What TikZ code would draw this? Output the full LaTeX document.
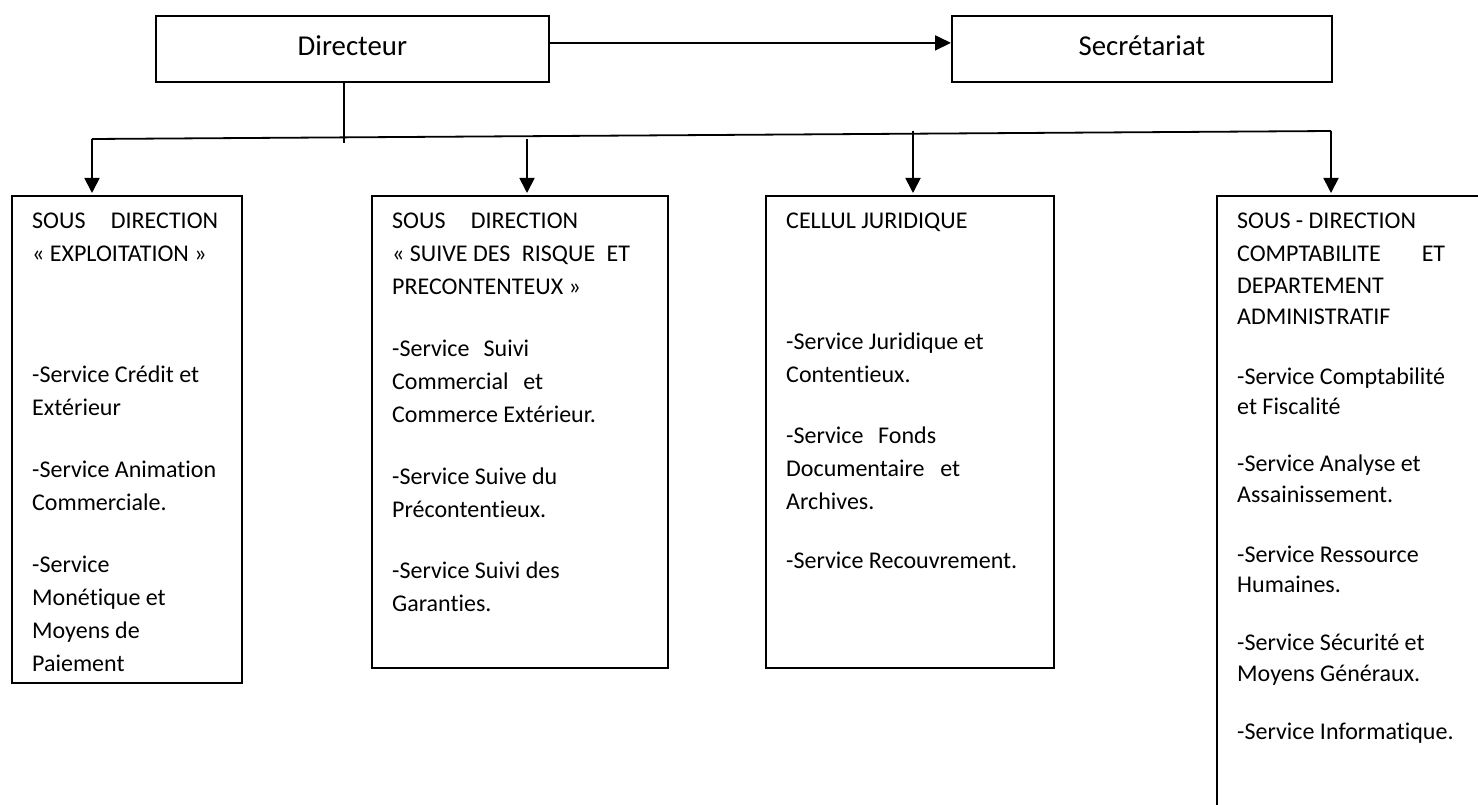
\documentclass[tikz,border=0pt]{standalone}
\usepackage{fontspec}
\setmainfont{Carlito}[Ligatures=NoCommon]
\usetikzlibrary{calc,arrows.meta}

% word spaces of the font itself (align=left fixes them otherwise)
\newcommand{\fontsp}{\spaceskip=0pt\xspaceskip=0pt\relax}
% stretched (justified) line of a given width
\newcommand{\jline}[2]{\makebox[#1][s]{\fontsp#2}}

\begin{document}
\begin{tikzpicture}[x=1pt, y=-1pt,
  box/.style={draw, line width=1.8pt, inner sep=0pt, anchor=north west},
  head/.style={box, font=\fontsize{28.8}{34}\selectfont, text depth=6pt},
  txt/.style={inner sep=0pt, anchor=base west, align=left, text width=240pt,
    font=\fontsize{24}{33}\selectfont},
  link/.style={line width=1.8pt},
  arr/.style={link, -{Triangle[length=15pt,width=15pt]}, shorten >=2pt}]

  % Page
  \clip (0,0) rectangle (1478,805);
  \fill[white] (0,0) rectangle (1478,805);

  % ==================== 1. TOP ====================
  \node[head, minimum width=393pt, minimum height=66pt] (dir) at (155,15) {Directeur};
  \node[head, minimum width=380pt, minimum height=66pt] (sec) at (951,15) {Secrétariat};
  \draw[arr, shorten >=0pt, -{Triangle[length=16pt,width=15pt]}] ([yshift=6pt]dir.east) -- ([yshift=6pt]sec.west);

  % ==================== 2. BOXES ====================
  \node[box, minimum width=230pt, minimum height=487pt] (b1) at (11,195) {};
  \node[box, minimum width=296pt, minimum height=472pt] (b2) at (371,195) {};
  \node[box, minimum width=288pt, minimum height=472pt] (b3) at (765,195) {};
  \node[box, minimum width=320pt, minimum height=660pt] (b4) at (1216,195) {};

  % Box 1 (text cut at the bottom)
  \begin{scope}
    \clip (b1.north west) rectangle ($(b1.south east)+(0,-11)$);
    \node[txt] (t1) at ($(b1.north west)+(21,34)$) {\fontsp
      \jline{186pt}{SOUS DIRECTION}\\
      « EXPLOITATION »\\[88pt]
      -Service Crédit et\\
      Extérieur\\[29pt]
      -Service Animation\\
      Commerciale.\\[29pt]
      -Service\\
      Monétique et\\
      Moyens de\\
      Paiement};
  \end{scope}

  % Box 2
  \node[txt] (t2) at ($(b2.north west)+(21,34)$) {\fontsp
    \jline{186pt}{SOUS DIRECTION}\\
    \jline{238pt}{\mbox{« SUIVE DES} RISQUE ET}\\
    PRECONTENTEUX »\\[29pt]
    \jline{137pt}{-Service Suivi}\\
    \jline{151pt}{Commercial et}\\
    Commerce Extérieur.\\[29pt]
    -Service Suive du\\
    Précontentieux.\\[28pt]
    -Service Suivi des\\
    Garanties.};

  % Box 3
  \node[txt] (t3) at ($(b3.north west)+(21,34)$) {\fontsp
    CELLUL JURIDIQUE\\[88pt]
    -Service Juridique et\\
    Contentieux.\\[28pt]
    \jline{150pt}{-Service Fonds}\\
    \jline{174pt}{Documentaire et}\\
    Archives.\\[26pt]
    -Service Recouvrement.};

  % Box 4
  \node[txt, font=\fontsize{24}{30.5}\selectfont] (t4) at ($(b4.north west)+(21,34)$) {\fontsp
    SOUS - DIRECTION\\[2.5pt]
    \jline{208pt}{COMPTABILITE ET}\\[1.5pt]
    DEPARTEMENT\\
    ADMINISTRATIF\\[29.5pt]
    -Service Comptabilité\\
    et Fiscalité\\[26.5pt]
    -Service Analyse et\\
    Assainissement.\\[29.5pt]
    -Service Ressource\\
    Humaines.\\[27.5pt]
    -Service Sécurité et\\
    Moyens Généraux.\\[27.5pt]
    -Service Informatique.};

  % ==================== 3. CONNECTORS ====================
  \coordinate (drop) at (344,143);
  \coordinate (busL) at (92,139);
  \coordinate (busR) at (1331,131);
  \coordinate (tap2) at (527,139);
  \coordinate (tap3) at (913,131);

  \draw[link] (drop |- dir.south) -- (drop);
  \draw[link] (busL) -- (busR);
  \draw[arr] (busL) -- (busL |- b1.north);
  \draw[arr] (tap2) -- (tap2 |- b2.north);
  \draw[arr] (tap3) -- (tap3 |- b3.north);
  \draw[arr] (busR) -- (busR |- b4.north);

\end{tikzpicture}
\end{document}
